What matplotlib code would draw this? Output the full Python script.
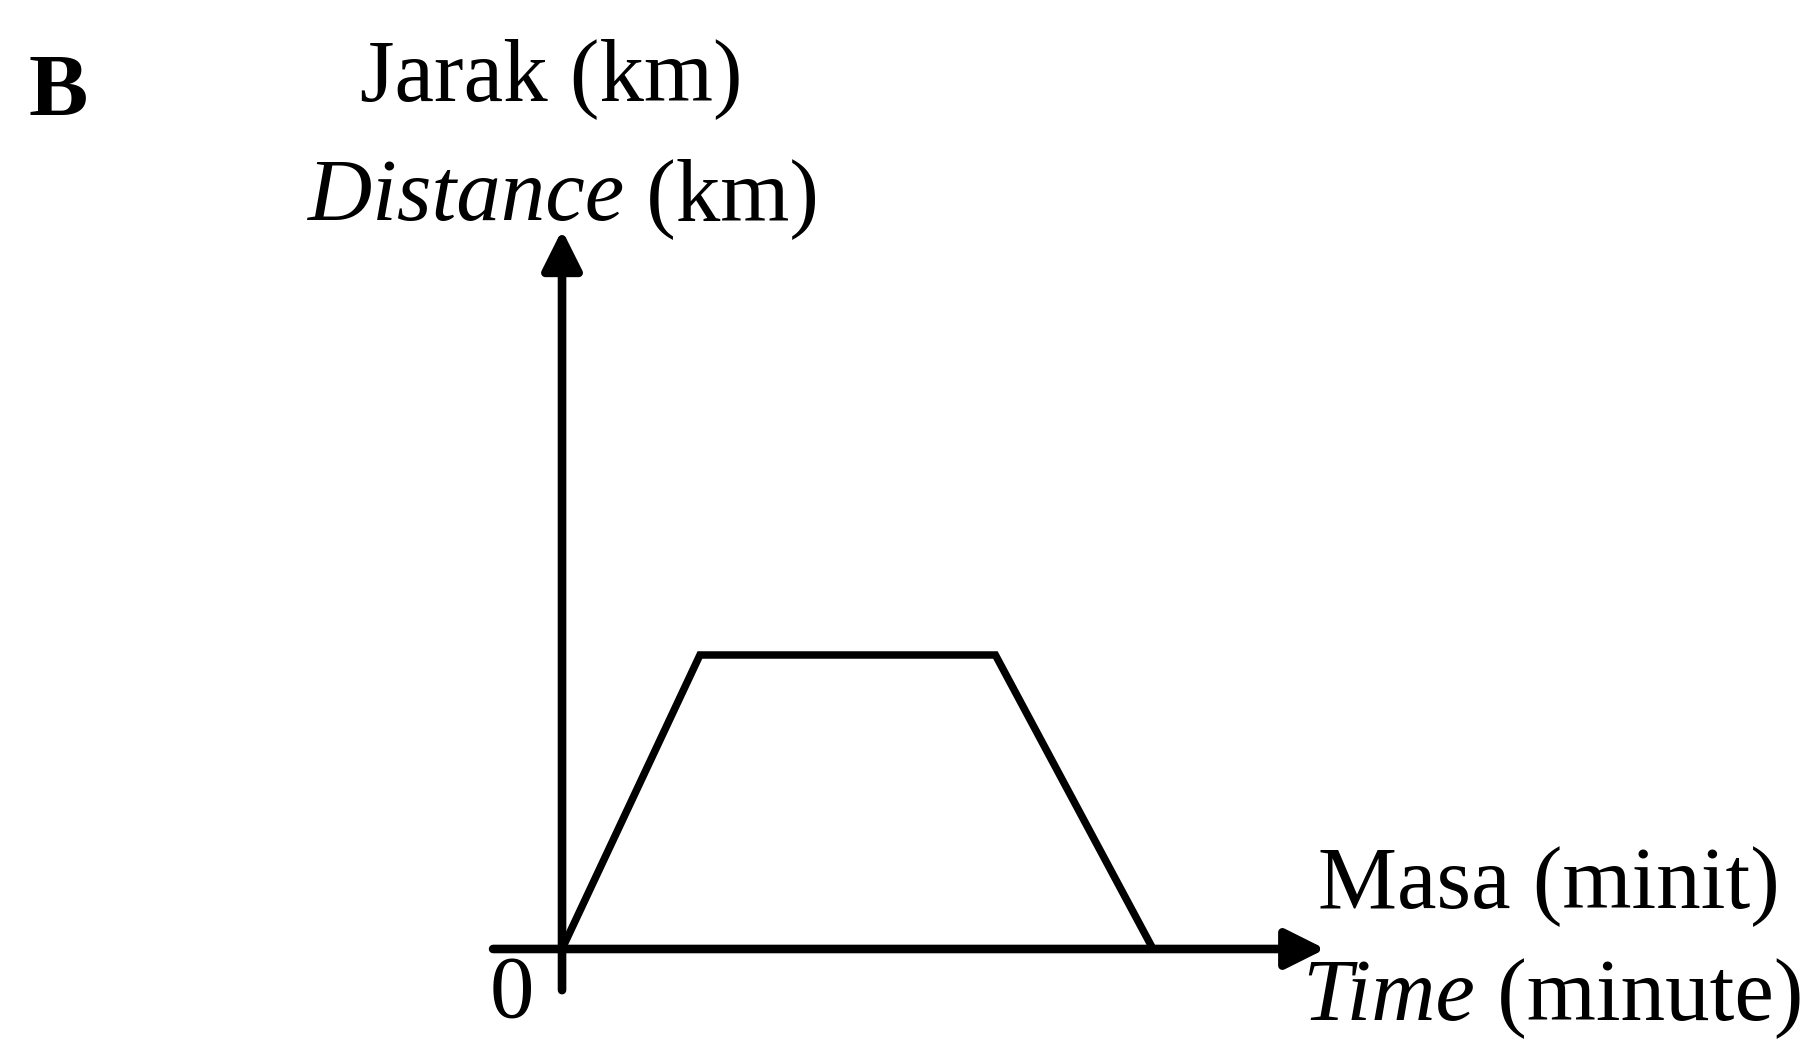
import matplotlib
matplotlib.use("Agg")
import matplotlib.pyplot as plt

# Distance-time graph: travel out, stop, return
time = [0, 14, 44, 60]          # minutes
distance = [0, 5, 5, 0]         # km

W, H, DPI = 1815, 1040, 100
plt.rcParams["font.family"] = ["Liberation Serif", "DejaVu Serif"]

fig = plt.figure(figsize=(W / DPI, H / DPI), dpi=DPI)
ax = fig.add_axes([0, 0, 1, 1])
ax.set_xlim(-57.06, 127.21)
ax.set_ylim(-1.548, 16.14)
ax.axis("off")

FS = 64
AX_LW = 6.2
arrow_style = "-|>,head_length=1.2,head_width=0.6"

# Axes drawn as arrows from the origin
ax.annotate("", xy=(77.5, 0), xytext=(-7.0, 0),
            arrowprops=dict(arrowstyle=arrow_style, lw=AX_LW, color="black",
                            shrinkA=0, shrinkB=0, mutation_scale=20))
ax.annotate("", xy=(0, 12.23), xytext=(0, -0.70),
            arrowprops=dict(arrowstyle=arrow_style, lw=AX_LW, color="black",
                            shrinkA=0, shrinkB=0, mutation_scale=20))

# The journey
ax.plot(time, distance, color="black", lw=5.4, solid_joinstyle="miter",
        solid_capstyle="butt")


def fx(px):
    return px / W


def fy(py):
    return 1 - py / H


def mixed(x_px, y_px, italic_part, roman_part):
    """Italic word followed by roman text on the same baseline."""
    t = fig.text(fx(x_px), fy(y_px), italic_part, fontsize=FS, style="italic",
                 ha="left", va="baseline")
    fig.canvas.draw()
    ax.annotate(roman_part, xy=(1, fy(y_px)), xycoords=(t, "figure fraction"),
                fontsize=FS, ha="left", va="baseline")


fig.text(fx(29), fy(115), "B", fontsize=FS, fontweight="bold",
         ha="left", va="baseline")
fig.text(fx(360), fy(100), "Jarak (km)", fontsize=FS, ha="left", va="baseline")
mixed(308, 220, "Distance", " (km)")
fig.text(fx(1318), fy(908), "Masa (minit)", fontsize=FS, ha="left", va="baseline")
mixed(1302, 1020, "Time", " (minute)")
fig.text(fx(490), fy(1017), "0", fontsize=FS, ha="left", va="baseline")

fig.savefig("out.png", dpi=DPI, facecolor="white")
